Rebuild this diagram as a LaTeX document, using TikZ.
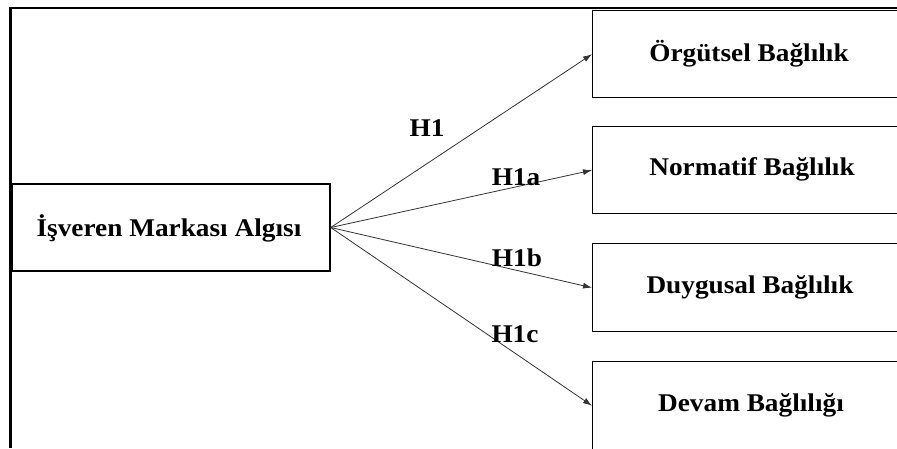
\documentclass[tikz,border=0pt]{standalone}
\usepackage{fontspec}
\setmainfont[FakeStretch=1.07]{Liberation Serif}
\usetikzlibrary{arrows.meta}
\begin{document}
\begin{tikzpicture}[x=1pt,y=-1pt,
  box/.style={draw=black,line width=1.4pt,inner sep=0pt},
  txt/.style={font=\fontsize{25.5}{30}\selectfont\bfseries,inner sep=0pt},
  hyp/.style={font=\fontsize{25.5}{30}\selectfont\bfseries,inner sep=0pt,anchor=base},
  link/.style={draw=black!80,line width=0.8pt,-{Latex[length=9pt,width=6pt]}}]
\useasboundingbox (0,0) rectangle (897,448);
\clip (0,0) rectangle (897,448);
% outer frame (top and left edges)
\draw[line width=2.2pt] (9,8) -- (897,8);
\draw[line width=2.2pt] (10.5,7) -- (10.5,448);
% independent variable
\node[box,minimum width=318pt,minimum height=87pt] (ema) at (171,227.5) {};
\node[txt] (emat) at (169,228) {İşveren Markası Algısı};
% dependent variables (boxes run past the right edge)
\node[box,minimum width=340pt,minimum height=87pt,anchor=north west] (org) at (592,10) {};
\node[box,minimum width=340pt,minimum height=87pt,anchor=north west] (nor) at (592,126) {};
\node[box,minimum width=340pt,minimum height=88pt,anchor=north west] (duy) at (592,243) {};
\node[box,minimum width=340pt,minimum height=88pt,anchor=north west] (dev) at (592,361) {};
\node[txt] (orgt) at (749,53.5) {Örgütsel Bağlılık};
\node[txt] (nort) at (752,169.5) {Normatif Bağlılık};
\node[txt] (duyt) at (750,287) {Duygusal Bağlılık};
\node[txt] (devt) at (751,405) {Devam Bağlılığı};
% hypothesis paths
\draw[link] (ema.east) -- (org.west);
\draw[link] (ema.east) -- (nor.west);
\draw[link] (ema.east) -- (duy.west);
\draw[link] (ema.east) -- (dev.west);
% path labels
\node[hyp] (h1) at (427,136) {H1};
\node[hyp] (h1a) at (516,185) {H1a};
\node[hyp] (h1b) at (517,266) {H1b};
\node[hyp] (h1c) at (515,342) {H1c};
\end{tikzpicture}
\end{document}
